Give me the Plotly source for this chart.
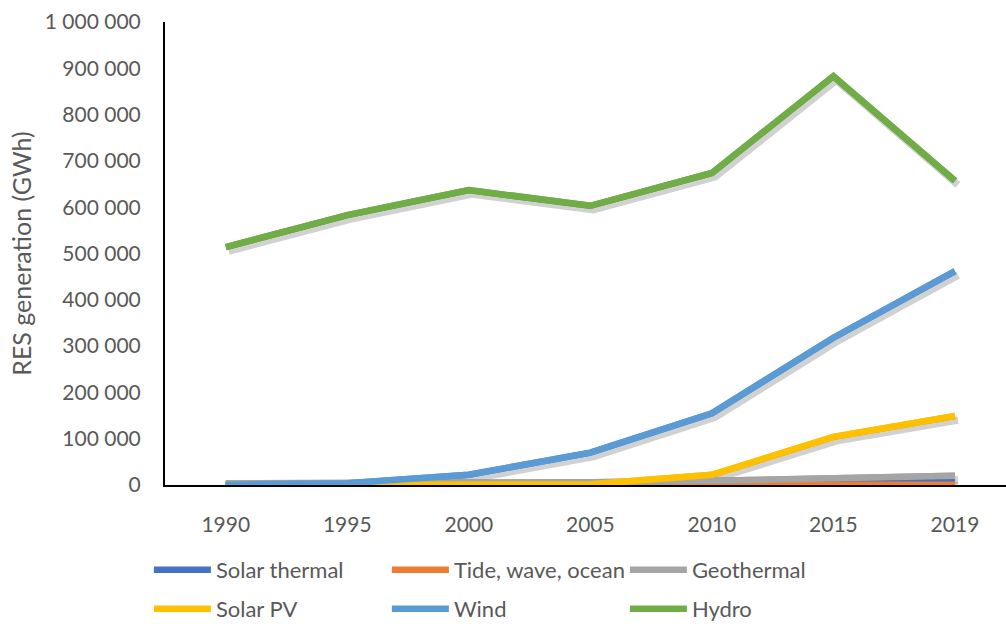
import plotly.graph_objects as go

years = ["1990", "1995", "2000", "2005", "2010", "2015", "2019"]

solar_thermal = [0, 0, 0, 0, 800, 4000, 7000]
tide_wave_ocean = [500, 500, 500, 500, 500, 500, 500]
geothermal = [3500, 4000, 5000, 6000, 9000, 14000, 20000]
solar_pv = [0, 0, 1000, 1500, 22000, 104000, 149000]
wind = [800, 4000, 22000, 70000, 155000, 318000, 462000]
hydro = [514000, 583000, 637000, 603000, 674000, 883000, 657000]

series = [
    ("Solar thermal", solar_thermal, "#4472C4", "legend"),
    ("Tide, wave, ocean", tide_wave_ocean, "#ED7D31", "legend"),
    ("Geothermal", geothermal, "#A5A5A5", "legend"),
    ("Solar PV", solar_pv, "#FFC000", "legend2"),
    ("Wind", wind, "#5B9BD5", "legend2"),
    ("Hydro", hydro, "#70AD47", "legend2"),
]

FONT = "Lato"
TEXT = "#595959"
W, H = 1006, 624
M_L, M_R, M_T, M_B = 165, 0, 22, 139
plot_w = W - M_L - M_R
plot_h = H - M_T - M_B
LW = 6.5

x_range = [-0.5, 6.42]
y_range = [0, 1_000_000]

# drop shadow: the same lines on an overlay axis pair whose range is nudged a few pixels
sx, sy = 3, 4
x_unit = (x_range[1] - x_range[0]) / plot_w
y_unit = (y_range[1] - y_range[0]) / plot_h
x_range_shadow = [x_range[0] - sx * x_unit, x_range[1] - sx * x_unit]
y_range_shadow = [y_range[0] + sy * y_unit, y_range[1] + sy * y_unit]

fig = go.Figure()

# base layer (carries categories and legend entries)
for name, vals, color, lg in series:
    fig.add_trace(go.Scatter(
        x=years, y=vals, mode="lines", name=name, xaxis="x", yaxis="y",
        line=dict(color=color, width=LW), legend=lg,
    ))

# shadow layer
for name, vals, color, lg in series:
    fig.add_trace(go.Scatter(
        x=years, y=vals, mode="lines", xaxis="x2", yaxis="y2",
        line=dict(color="rgba(0,0,0,0.18)", width=LW + 1),
        showlegend=False, hoverinfo="skip",
    ))

# lines drawn above their shadows
for name, vals, color, lg in series:
    fig.add_trace(go.Scatter(
        x=years, y=vals, mode="lines", name=name, xaxis="x3", yaxis="y3",
        line=dict(color=color, width=LW), showlegend=False,
    ))

legend_common = dict(
    orientation="h", xref="container", yref="container",
    xanchor="left", yanchor="middle",
    font=dict(family=FONT, size=22, color=TEXT),
    itemwidth=57, entrywidth=166, entrywidthmode="pixels",
    bgcolor="rgba(0,0,0,0)", tracegroupgap=0,
)

fig.update_layout(
    width=W, height=H,
    margin=dict(l=M_L, r=M_R, t=M_T, b=M_B),
    plot_bgcolor="white", paper_bgcolor="white",
    separators=". ",
    font=dict(family=FONT, color=TEXT),
    xaxis=dict(
        type="category", range=x_range, showgrid=False, zeroline=False,
        showline=True, linecolor="black", linewidth=2,
        ticks="", tickfont=dict(family=FONT, size=21, color=TEXT),
        ticklabelstandoff=20,
    ),
    yaxis=dict(
        range=y_range, dtick=100000, tickformat=",d", showgrid=False,
        zeroline=False, showline=True, linecolor="black", linewidth=2,
        ticks="", tickfont=dict(family=FONT, size=21, color=TEXT),
        ticklabelstandoff=18,
        title=dict(text="RES generation (GWh)", standoff=6,
                   font=dict(family=FONT, size=25, color=TEXT)),
    ),
    xaxis2=dict(type="category", range=x_range_shadow, overlaying="x",
                visible=False),
    yaxis2=dict(range=y_range_shadow, overlaying="y", visible=False),
    xaxis3=dict(type="category", range=x_range, overlaying="x",
                visible=False),
    yaxis3=dict(range=y_range, overlaying="y", visible=False),
    legend=dict(x=0.148, y=1 - 570 / H, **legend_common),
    legend2=dict(x=0.148, y=1 - 609 / H, **legend_common),
)

fig.write_html("out.html")
